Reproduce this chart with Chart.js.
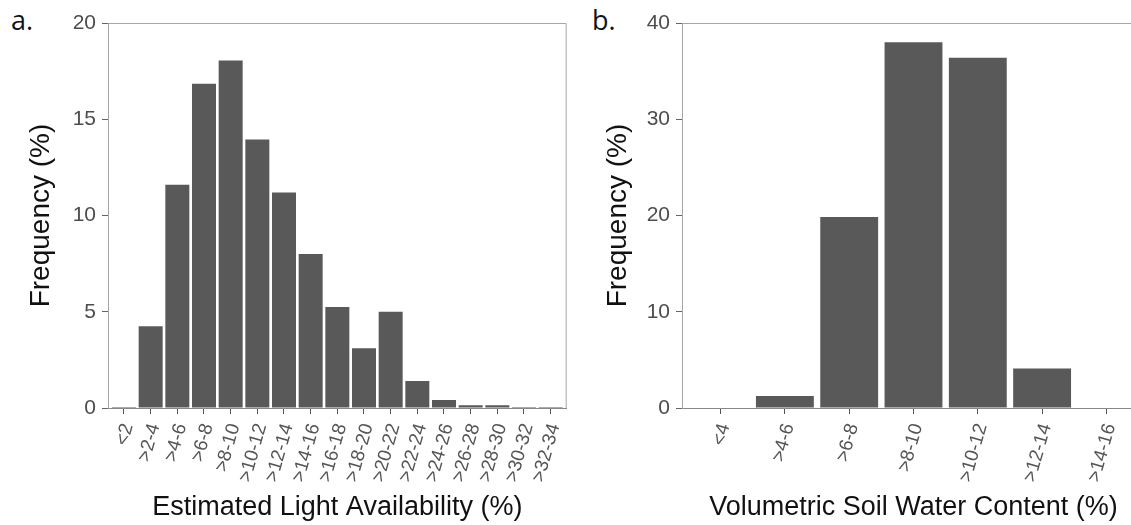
<!DOCTYPE html>
<html>
<head>
<meta charset="utf-8">
<script src="https://cdn.jsdelivr.net/npm/chart.js@4.4.1/dist/chart.umd.min.js"></script>
<style>
  html, body { margin: 0; padding: 0; background: #fff; overflow: hidden; }
  body { width: 1131px; height: 525px; position: relative; }
  canvas { position: absolute; top: 0; }
  #chartA { left: 0; }
  #chartB { left: 580px; }
  .panel-tag { position: absolute; top: 1px; font-family: 'Open Sans', sans-serif; font-size: 27px; color: #111; }
</style>
</head>
<body>
<div class="panel-tag" style="left:11px">a.</div>
<div class="panel-tag" style="left:592px">b.</div>
<canvas id="chartA" width="580" height="525"></canvas>
<canvas id="chartB" width="580" height="525"></canvas>
<script>
// Panel a: estimated light availability
const lightBins = ['<2', '>2-4', '>4-6', '>6-8', '>8-10', '>10-12', '>12-14', '>14-16', '>16-18',
  '>18-20', '>20-22', '>22-24', '>24-26', '>26-28', '>28-30', '>30-32', '>32-34'];
const lightFreq = [0.05, 4.25, 11.6, 16.85, 18.05, 13.95, 11.2, 8.0, 5.25,
  3.1, 5.0, 1.4, 0.42, 0.14, 0.14, 0.05, 0.05];
const lightTicks = [0, 5, 10, 15, 20];

// Panel b: volumetric soil water content
const waterBins = ['<4', '>4-6', '>6-8', '>8-10', '>10-12', '>12-14', '>14-16'];
const waterFreq = [0.05, 1.25, 19.85, 38.0, 36.4, 4.1, 0.05];
const waterTicks = [0, 10, 20, 30, 40];

Chart.defaults.font.family = "'Liberation Sans', Arial, sans-serif";

// draws the top and right edges of the panel box
const frame = {
  id: 'frame',
  afterDraw(chart) {
    const { ctx, chartArea: a } = chart;
    ctx.save();
    ctx.strokeStyle = '#a6a6a6';
    ctx.lineWidth = 1;
    ctx.beginPath();
    ctx.moveTo(a.left, a.top + 0.5);
    ctx.lineTo(a.right - 0.5, a.top + 0.5);
    ctx.lineTo(a.right - 0.5, a.bottom);
    ctx.stroke();
    ctx.restore();
  }
};

function makeChart(id, bins, freq, yTicks, xTitle, axisWidth, titlePad, rightPad) {
  const ctx = document.getElementById(id).getContext('2d');
  return new Chart(ctx, {
    type: 'bar',
    data: {
      datasets: [{
        data: freq.map((v, i) => ({ x: i, y: v })),
        backgroundColor: '#595959',
        borderWidth: 0,
        barPercentage: 0.9,
        categoryPercentage: 1
      }]
    },
    options: {
      responsive: false,
      animation: false,
      layout: { padding: { top: 23, right: rightPad, left: 0, bottom: 0 } },
      plugins: { legend: { display: false }, tooltip: { enabled: false } },
      scales: {
        x: {
          type: 'linear',
          min: -0.6,
          max: bins.length - 1 + 0.6,
          offset: false,
          afterBuildTicks: s => { s.ticks = bins.map((_, i) => ({ value: i })); },
          afterFit: s => { s.height = 117; },
          grid: { offset: false, drawOnChartArea: false, tickLength: 6, tickColor: '#555' },
          border: { color: '#888' },
          ticks: {
            autoSkip: false,
            minRotation: 74,
            maxRotation: 74,
            padding: 7,
            labelOffset: 4,
            color: '#555',
            font: { size: 19 },
            callback: v => bins[v]
          },
          title: {
            display: true,
            text: xTitle,
            color: '#111',
            font: { size: 27 },
            padding: { top: 0, bottom: 1 }
          }
        },
        y: {
          min: 0,
          max: yTicks[yTicks.length - 1],
          afterBuildTicks: s => { s.ticks = yTicks.map(v => ({ value: v })); },
          afterFit: s => { s.width = axisWidth; },
          grid: { drawOnChartArea: false, tickLength: 6, tickColor: '#666' },
          border: { color: '#a6a6a6' },
          ticks: { padding: 6, color: '#4d4d4d', font: { size: 21 } },
          title: {
            display: true,
            text: 'Frequency (%)',
            color: '#111',
            font: { size: 28 },
            padding: { top: titlePad, bottom: 0 }
          }
        }
      }
    },
    plugins: [frame]
  });
}

makeChart('chartA', lightBins, lightFreq, lightTicks, 'Estimated Light Availability (%)', 108, 24, 12);
makeChart('chartB', waterBins, waterFreq, waterTicks, 'Volumetric Soil Water Content (%)', 102, 21, 15);
</script>
</body>
</html>
